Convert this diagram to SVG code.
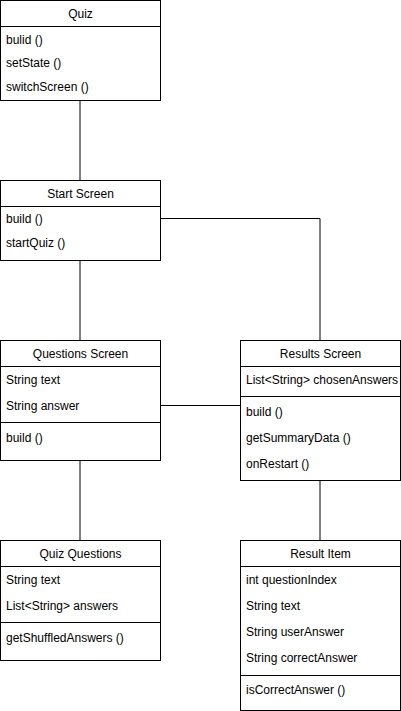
<svg xmlns="http://www.w3.org/2000/svg" width="401" height="711" viewBox="0 0 401 711">
<style>
.box{fill:#fff;stroke:#000;stroke-width:1}
.sep{stroke:#000;stroke-width:1}
.conn{fill:none;stroke:#000;stroke-width:1}
text{font-family:"Liberation Sans",Arial,sans-serif;font-size:12px;fill:#000}
.h{text-anchor:middle}
</style>
<rect width="401" height="711" fill="#fff"/>
<g id="connectors">
<path class="conn" d="M80 100.5V180.5"/>
<path class="conn" d="M160.5 218.5H320V340.5"/>
<path class="conn" d="M80 260.5V340.5"/>
<path class="conn" d="M160.5 405.5H240.5"/>
<path class="conn" d="M80 460.5V540.5"/>
<path class="conn" d="M320 480.5V540.5"/>
</g>
<g id="quiz">
<rect class="box" x="0.5" y="0.5" width="160" height="100"/>
<line class="sep" x1="0.5" y1="26.5" x2="160.5" y2="26.5"/>
<text class="h" x="80.5" y="18">Quiz</text>
<text x="6" y="44">bulid ()</text>
<text x="6" y="67">setState ()</text>
<text x="6" y="91">switchScreen ()</text>
</g>
<g id="start-screen">
<rect class="box" x="0.5" y="180.5" width="160" height="80"/>
<line class="sep" x1="0.5" y1="206.5" x2="160.5" y2="206.5"/>
<text class="h" x="80.5" y="198">Start Screen</text>
<text x="6" y="223">build ()</text>
<text x="6" y="247">startQuiz ()</text>
</g>
<g id="questions-screen">
<rect class="box" x="0.5" y="340.5" width="160" height="120"/>
<line class="sep" x1="0.5" y1="366.5" x2="160.5" y2="366.5"/>
<line class="sep" x1="0.5" y1="422.5" x2="160.5" y2="422.5"/>
<text class="h" x="80.5" y="358">Questions Screen</text>
<text x="6" y="384">String text</text>
<text x="6" y="410">String answer</text>
<text x="6" y="442">build ()</text>
</g>
<g id="results-screen">
<rect class="box" x="240.5" y="340.5" width="160" height="140"/>
<line class="sep" x1="240.5" y1="366.5" x2="400.5" y2="366.5"/>
<line class="sep" x1="240.5" y1="396.5" x2="400.5" y2="396.5"/>
<text class="h" x="320.5" y="358">Results Screen</text>
<text x="246" y="384">List&lt;String&gt; chosenAnswers</text>
<text x="246" y="416">build ()</text>
<text x="246" y="442">getSummaryData ()</text>
<text x="246" y="468">onRestart ()</text>
</g>
<g id="quiz-questions">
<rect class="box" x="0.5" y="540.5" width="160" height="120"/>
<line class="sep" x1="0.5" y1="566.5" x2="160.5" y2="566.5"/>
<line class="sep" x1="0.5" y1="622.5" x2="160.5" y2="622.5"/>
<text class="h" x="80.5" y="558">Quiz Questions</text>
<text x="6" y="584">String text</text>
<text x="6" y="610">List&lt;String&gt; answers</text>
<text x="6" y="642">getShuffledAnswers ()</text>
</g>
<g id="result-item">
<rect class="box" x="240.5" y="540.5" width="160" height="170"/>
<line class="sep" x1="240.5" y1="566.5" x2="400.5" y2="566.5"/>
<line class="sep" x1="240.5" y1="675.5" x2="400.5" y2="675.5"/>
<text class="h" x="320.5" y="558">Result Item</text>
<text x="246" y="584">int questionIndex</text>
<text x="246" y="610">String text</text>
<text x="246" y="636">String userAnswer</text>
<text x="246" y="662">String correctAnswer</text>
<text x="246" y="694">isCorrectAnswer ()</text>
</g>
</svg>
